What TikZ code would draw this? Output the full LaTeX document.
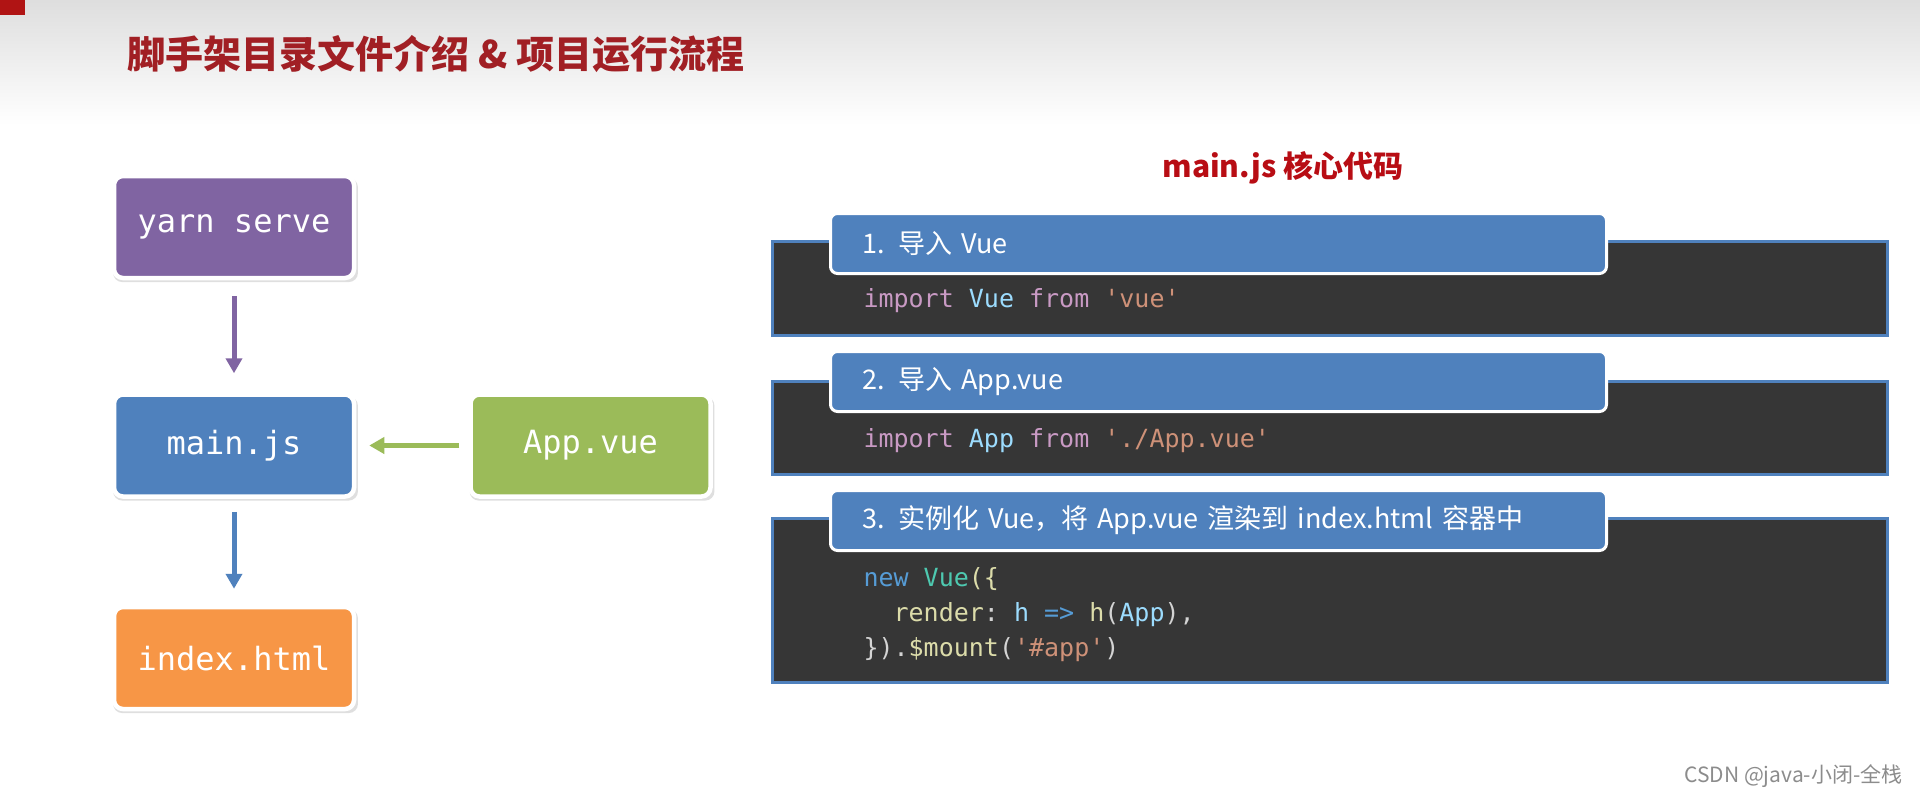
\documentclass[tikz,border=0pt]{standalone}
\usepackage{fontspec}
\setmainfont{Noto Sans CJK SC}
\setmonofont{DejaVu Sans Mono}
\usetikzlibrary{positioning,arrows.meta,shadows}

\definecolor{vpurple}{HTML}{8064A2}
\definecolor{vblue}{HTML}{4F81BD}
\definecolor{vorange}{HTML}{F79646}
\definecolor{vgreen}{HTML}{9BBB59}
\definecolor{titlered}{HTML}{A11F24}
\definecolor{subred}{HTML}{B80D14}
\definecolor{cornerred}{HTML}{B01414}
\definecolor{codebg}{HTML}{363636}
\definecolor{codefg}{HTML}{D4D4D4}
\definecolor{ckw}{HTML}{C99AC4}
\definecolor{cid}{HTML}{9CDCFE}
\definecolor{cstr}{HTML}{CE9178}
\definecolor{cnew}{HTML}{569CD6}
\definecolor{ccls}{HTML}{4EC9B0}
\definecolor{cfun}{HTML}{DCDCAA}

\newcommand{\kw}[1]{\textcolor{ckw}{#1}}
\newcommand{\idn}[1]{\textcolor{cid}{#1}}
\newcommand{\str}[1]{\textcolor{cstr}{#1}}
\newcommand{\fn}[1]{\textcolor{cfun}{#1}}

\begin{document}
\begin{tikzpicture}[
    x=1pt, y=-1pt,
    block/.style={draw=white, line width=4.5pt, rounded corners=9pt, minimum width=240pt, minimum height=102pt,
        text=white, font=\ttfamily\fontsize{32}{32}\selectfont,
        drop shadow={opacity=0.25, shadow xshift=1.5pt, shadow yshift=-3pt, shadow scale=1.02}},
    flow/.style={line width=5pt, -{Triangle[length=15pt,width=16pt]}},
    panel/.style={draw=vblue, line width=2.5pt, fill=codebg, minimum width=1115pt, anchor=north west, inner sep=0pt},
    head/.style={draw=white, line width=3pt, fill=vblue, rounded corners=7pt, minimum height=60pt,
        text width=712pt, inner xsep=32pt, align=left, anchor=north west, text=white,
        font=\fontsize{27}{27}\selectfont},
    code/.style={anchor=west, align=left, text=codefg, font=\ttfamily\fontsize{25}{35}\selectfont}
]
    % background
    \fill[white] (0,0) rectangle (1920,796);
    \shade[top color=black!13, bottom color=white] (0,0) rectangle (1920,125);
    \fill[cornerred] (0,0) rectangle (25,15);

    \node[anchor=west, text=titlered, font=\bfseries\fontsize{38}{38}\selectfont] (title) at (124,54)
        {脚手架目录文件介绍 \& 项目运行流程};

    % flow on the left
    \node[block, fill=vpurple] (yarn) at (234,227) {yarn serve};
    \node[block, fill=vblue, below=112pt of yarn] (main) {main.js};
    \node[block, fill=vorange, below=106pt of main] (index) {index.html};
    \node[block, fill=vgreen, right=112pt of main] (app) {App.vue};

    \draw[flow, vpurple, shorten <=16pt, shorten >=19pt] (yarn) -- (main);
    \draw[flow, vblue, shorten <=13pt, shorten >=16pt] (main) -- (index);
    \draw[flow, vgreen, shorten <=9pt, shorten >=13pt] (app) -- (main);

    % main.js code
    \node[text=subred, font=\bfseries\fontsize{30}{30}\selectfont] (sub) at (1283,168) {main.js 核心代码};

    \node[panel, minimum height=94pt] (p1) at (771,240) {};
    \node[head] (h1) at ([shift={(58,-28)}]p1.north west) {1. 导入 Vue};
    \node[code] (c1) at (860,301) {\kw{import} \idn{Vue} \kw{from} \str{'vue'}};

    \node[panel, minimum height=93pt] (p2) at (771,380) {};
    \node[head] (h2) at ([shift={(58,-30)}]p2.north west) {2. 导入 App.vue};
    \node[code] (c2) at (860,441) {\kw{import} \idn{App} \kw{from} \str{'./App.vue'}};

    \node[panel, minimum height=164pt] (p3) at (771,517) {};
    \node[head] (h3) at ([shift={(58,-28)}]p3.north west) {3. 实例化 Vue，将 App.vue 渲染到 index.html 容器中};
    \node[code] (c3) at (860,615)
        {\textcolor{cnew}{new} \textcolor{ccls}{Vue}\fn{(\{}\\
         \ \ \fn{render}: \idn{h} \textcolor{cnew}{=>} \fn{h}(\idn{App}),\\
         \}).\fn{\$mount}(\str{'\#app'})};

    \node[anchor=east, text=black!45, font=\fontsize{21}{21}\selectfont] (mark) at (1906,776) {CSDN @java-小闭-全栈};
\end{tikzpicture}
\end{document}
